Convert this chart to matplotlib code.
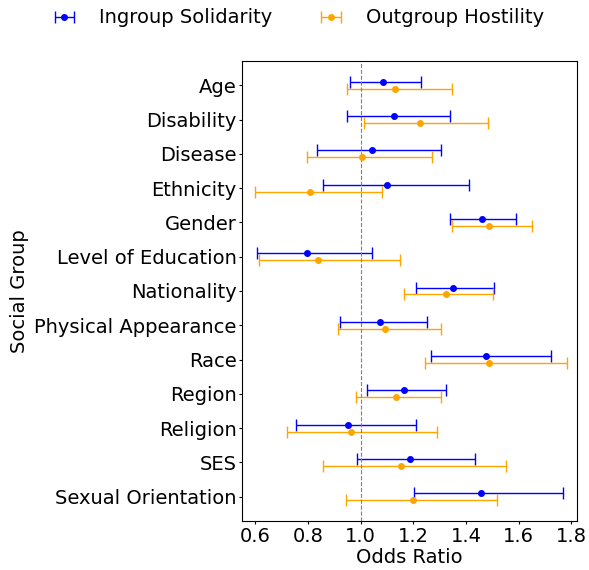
import matplotlib
matplotlib.use("Agg")
import matplotlib.pyplot as plt
import numpy as np

groups = ["Age", "Disability", "Disease", "Ethnicity", "Gender",
          "Level of Education", "Nationality", "Physical Appearance",
          "Race", "Region", "Religion", "SES", "Sexual Orientation"]

# odds ratio with 95% CI
ingroup_or = [1.085, 1.128, 1.045, 1.100, 1.459, 0.796, 1.350, 1.074, 1.477, 1.166, 0.953, 1.189, 1.458]
ingroup_lo = [0.959, 0.948, 0.836, 0.859, 1.340, 0.607, 1.211, 0.921, 1.266, 1.025, 0.756, 0.986, 1.202]
ingroup_hi = [1.229, 1.341, 1.306, 1.410, 1.588, 1.045, 1.508, 1.251, 1.724, 1.325, 1.209, 1.434, 1.769]

outgroup_or = [1.129, 1.226, 1.006, 0.806, 1.489, 0.840, 1.323, 1.093, 1.487, 1.133, 0.965, 1.153, 1.197]
outgroup_lo = [0.948, 1.013, 0.798, 0.600, 1.345, 0.615, 1.164, 0.916, 1.243, 0.983, 0.721, 0.858, 0.944]
outgroup_hi = [1.348, 1.485, 1.272, 1.081, 1.650, 1.150, 1.504, 1.306, 1.782, 1.306, 1.290, 1.551, 1.516]

y = np.arange(len(groups))
off = 0.1

fig = plt.figure(figsize=(5.89, 5.70), dpi=100)
ax = fig.add_axes([0.411, 0.086, 0.568, 0.807])

ing = np.array(ingroup_or)
out = np.array(outgroup_or)
ax.errorbar(ing, y - off,
            xerr=[ing - np.array(ingroup_lo), np.array(ingroup_hi) - ing],
            fmt="o", color="blue", markersize=4, capsize=4, elinewidth=1,
            label="Ingroup Solidarity")
ax.errorbar(out, y + off,
            xerr=[out - np.array(outgroup_lo), np.array(outgroup_hi) - out],
            fmt="o", color="orange", markersize=4, capsize=4, elinewidth=1,
            label="Outgroup Hostility")

ax.axvline(1.0, color="grey", linestyle="--", linewidth=0.8)

ax.set_yticks(y)
ax.set_yticklabels(groups, fontsize=14)
ax.invert_yaxis()
ax.set_xticks([0.6, 0.8, 1.0, 1.2, 1.4, 1.6, 1.8])
ax.tick_params(axis="both", labelsize=14, length=2, pad=2)
ax.set_xlim(0.55, 1.82)
ax.set_xlabel("Odds Ratio", fontsize=14, labelpad=2)
ax.set_ylabel("Social Group", fontsize=14, labelpad=4)

fig.legend(loc="upper center", bbox_to_anchor=(0.5, 1.016), ncol=2,
           frameon=False, fontsize=14)

fig.savefig("out.png", dpi=100)
